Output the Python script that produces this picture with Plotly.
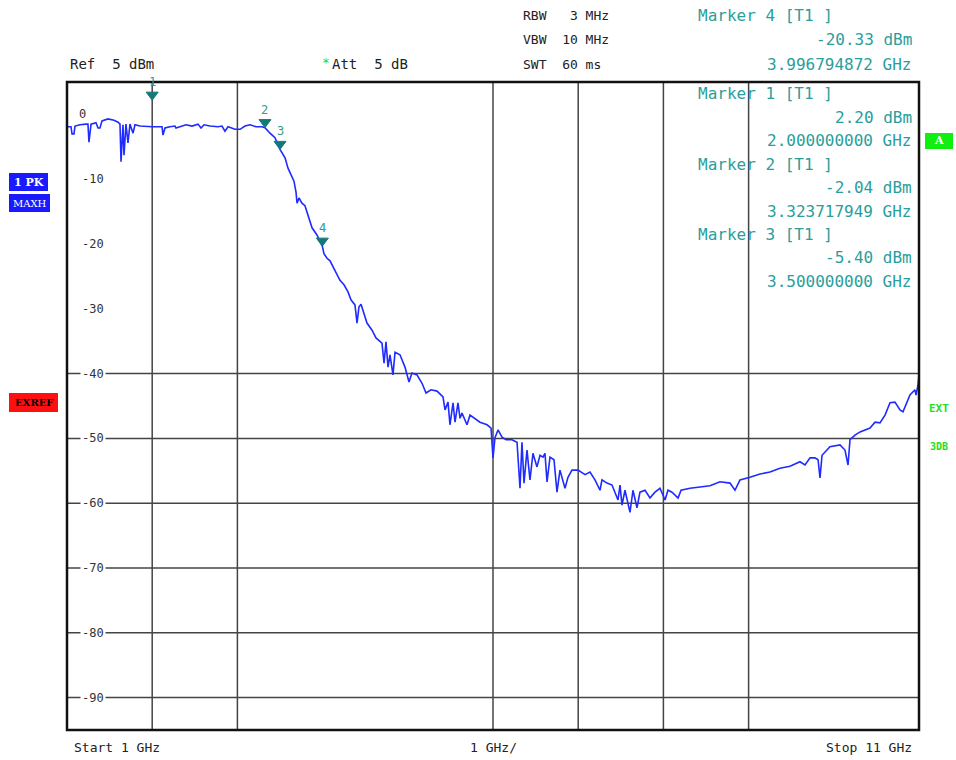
import plotly.graph_objects as go

# Spectrum trace (max hold), frequency in GHz and level in dBm
freq_ghz = [
    1.000, 1.047, 1.059, 1.082, 1.094, 1.153, 1.223, 1.246, 1.258, 1.282,
    1.340, 1.364, 1.387, 1.411, 1.481, 1.552, 1.599, 1.622, 1.634, 1.657,
    1.669, 1.692, 1.716, 1.739, 1.775, 1.798, 1.857, 1.927, 2.000, 2.068,
    2.115, 2.127, 2.150, 2.209, 2.268, 2.279, 2.326, 2.397, 2.467, 2.538,
    2.573, 2.608, 2.678, 2.772, 2.819, 2.854, 2.890, 2.972, 3.031, 3.089,
    3.148, 3.218, 3.289, 3.3237, 3.383, 3.441, 3.500, 3.559, 3.594, 3.629,
    3.664, 3.688, 3.700, 3.723, 3.758, 3.793, 3.829, 3.876, 3.934, 3.9968,
    4.016, 4.052, 4.087, 4.122, 4.157, 4.204, 4.251, 4.298, 4.333, 4.380,
    4.404, 4.427, 4.451, 4.486, 4.521, 4.580, 4.627, 4.697, 4.721, 4.744,
    4.768, 4.791, 4.826, 4.850, 4.908, 4.967, 5.014, 5.049, 5.108, 5.167,
    5.214, 5.272, 5.343, 5.413, 5.437, 5.472, 5.495, 5.531, 5.554, 5.589,
    5.613, 5.636, 5.695, 5.730, 5.789, 5.847, 5.930, 5.977, 6.000, 6.023,
    6.059, 6.106, 6.153, 6.223, 6.282, 6.317, 6.340, 6.364, 6.399, 6.434,
    6.469, 6.516, 6.552, 6.587, 6.610, 6.634, 6.669, 6.716, 6.751, 6.786,
    6.845, 6.880, 6.927, 6.998, 7.080, 7.138, 7.197, 7.256, 7.279, 7.338,
    7.397, 7.467, 7.491, 7.514, 7.549, 7.608, 7.643, 7.690, 7.725, 7.784,
    7.843, 7.901, 7.960, 8.019, 8.054, 8.101, 8.172, 8.207, 8.312, 8.430,
    8.547, 8.664, 8.782, 8.840, 8.899, 9.016, 9.134, 9.251, 9.368, 9.486,
    9.603, 9.662, 9.721, 9.779, 9.815, 9.838, 9.862, 9.955, 10.073, 10.131,
    10.167, 10.190, 10.249, 10.308, 10.425, 10.484, 10.542, 10.601, 10.660, 10.718,
    10.777, 10.812, 10.859, 10.894, 10.930, 10.953, 10.965, 10.988, 11.000,
]
level_dbm = [
    -1.9, -1.9, -3.0, -3.0, -1.8, -1.6, -1.5, -1.5, -4.3, -1.5,
    -1.3, -2.1, -2.1, -1.0, -0.7, -0.9, -1.2, -1.5, -7.3, -1.6,
    -6.3, -1.5, -4.4, -1.5, -2.9, -1.6, -1.8, -1.9, -1.9, -1.9,
    -1.9, -3.2, -2.1, -1.9, -1.8, -2.1, -1.9, -1.6, -1.8, -1.5,
    -2.1, -1.6, -1.8, -1.9, -1.8, -2.6, -1.9, -2.3, -2.3, -1.8,
    -1.6, -1.9, -1.9, -2.04, -2.9, -3.6, -5.40, -6.7, -8.3, -9.4,
    -10.3, -12.0, -13.7, -12.9, -13.7, -14.1, -15.5, -17.5, -18.6, -20.33,
    -21.5, -22.2, -22.6, -23.5, -24.5, -25.6, -26.3, -27.4, -28.6, -29.4,
    -32.2, -29.7, -29.3, -30.6, -32.2, -33.3, -34.5, -35.3, -38.4, -35.1,
    -39.0, -37.1, -40.2, -36.7, -37.1, -39.0, -41.3, -39.9, -40.2, -41.5,
    -43.0, -42.5, -42.7, -43.6, -45.6, -44.4, -47.9, -44.5, -47.5, -44.5,
    -46.9, -46.1, -47.9, -46.4, -46.9, -47.5, -47.9, -48.4, -53.0, -49.9,
    -48.7, -49.8, -50.2, -50.2, -50.6, -57.7, -50.6, -56.9, -51.8, -56.4,
    -52.3, -54.4, -52.6, -52.9, -52.3, -56.7, -52.9, -53.3, -58.3, -54.9,
    -57.7, -56.0, -54.9, -54.9, -55.6, -55.2, -56.4, -58.0, -56.4, -56.9,
    -57.2, -59.5, -57.2, -60.3, -58.0, -61.4, -58.0, -60.7, -58.3, -58.0,
    -59.2, -58.3, -57.7, -59.5, -58.0, -58.3, -59.2, -58.0, -57.7, -57.5,
    -57.3, -56.7, -56.9, -58.0, -56.4, -56.0, -55.5, -55.2, -54.6, -54.3,
    -53.6, -54.1, -53.0, -53.0, -53.3, -56.1, -52.6, -51.3, -51.0, -51.8,
    -54.1, -50.2, -49.5, -49.0, -48.4, -47.5, -47.6, -46.4, -44.5, -44.4,
    -45.6, -45.9, -44.5, -43.3, -42.8, -42.5, -43.3, -41.8, -40.2,
]

# Markers (trace 1)
marker_ids = [1, 2, 3, 4]
marker_freq_ghz = [2.000000000, 3.323717949, 3.500000000, 3.996794872]
marker_level_dbm = [2.20, -2.04, -5.40, -20.33]

# Axis setup: ref level 5 dBm, 10 dB/div, start 1 GHz, 1 GHz/div
y_min, y_max = -95, 5
x_min, x_max = 1, 11
y_label_vals = [0, -10, -20, -30, -40, -50, -60, -70, -80, -90]
h_grid_vals = [-40, -50, -60, -70, -80, -90]
v_grid_vals = [2, 3, 6, 7, 8, 9]

header_left = ["Ref  5 dBm", "Att  5 dB"]
header_mid = ["RBW   3 MHz", "VBW  10 MHz", "SWT  60 ms"]
footer = ["Start 1 GHz", "1 GHz/", "Stop 11 GHz"]

W, H = 956, 760
L, R, T, B = 67, 919, 82, 730
MONO = "DejaVu Sans Mono"
TEAL = "#2a9e9c"
TEAL_DARK = "#13797a"


def px(x):
    return (x - L) / (R - L)


def py(y):
    return (B - y) / (B - T)


fig = go.Figure()

fig.add_trace(go.Scatter(
    x=freq_ghz, y=level_dbm, mode="lines",
    line=dict(color="#1f2bff", width=1.6),
    hoverinfo="skip", showlegend=False,
))

shapes = []
annotations = []

# grid lines
for f in v_grid_vals:
    shapes.append(dict(type="line", xref="x", yref="paper", x0=f, x1=f, y0=0, y1=1,
                       line=dict(color="#444444", width=1.5), layer="below"))
for v in h_grid_vals:
    shapes.append(dict(type="line", xref="paper", yref="y", x0=0, x1=1, y0=v, y1=v,
                       line=dict(color="#444444", width=1.5), layer="below"))

# frame
shapes.append(dict(type="rect", xref="paper", yref="paper", x0=0, x1=1, y0=0, y1=1,
                   line=dict(color="#111111", width=2.5)))

# level labels inside the frame
for v in y_label_vals:
    annotations.append(dict(
        x=px(106) if v != 0 else px(88), y=v, xref="paper", yref="y",
        text=str(v), showarrow=False, xanchor="right", yanchor="middle",
        font=dict(family=MONO, size=12, color="#333333"),
        bgcolor="white", borderpad=1,
    ))

# marker symbols and numbers
for mid, mf, ml in zip(marker_ids, marker_freq_ghz, marker_level_dbm):
    shapes.append(dict(
        type="path", xref="x", yref="y", xsizemode="pixel", ysizemode="pixel",
        xanchor=mf, yanchor=ml, path="M -6 8 L 6 8 L 0 0 Z",
        fillcolor=TEAL_DARK, line=dict(color=TEAL_DARK, width=1),
    ))
    annotations.append(dict(
        x=mf, y=ml, xref="x", yref="y", text=str(mid), showarrow=False,
        xanchor="center", yanchor="bottom", yshift=9,
        font=dict(family=MONO, size=12, color=TEAL),
    ))


def text_at(x, y, s, color="#222222", size=13, anchor="left", **kw):
    annotations.append(dict(
        x=px(x), y=py(y), xref="paper", yref="paper", text=s, showarrow=False,
        xanchor=anchor, yanchor="middle", font=dict(family=MONO, size=size, color=color),
        **kw,
    ))


# header
text_at(68, 64, header_left[0], size=14)
text_at(320, 63, "*", color="#22dd22", size=13)
text_at(330, 64, header_left[1], size=14)
for i, s in enumerate(header_mid):
    text_at(521, 15 + i * 24.5, s, size=13)

# marker readouts
readout_rows = []
order = [3, 0, 1, 2]
for k in order:
    readout_rows.append((f"Marker {marker_ids[k]} [T1 ]", "left"))
    readout_rows.append((f"{marker_level_dbm[k]:.2f} dBm", "right"))
    readout_rows.append((f"{marker_freq_ghz[k]:.9f} GHz", "right"))
row_y = [15, 40, 64, 94, 117, 141, 164, 187, 211, 234, 257, 281]
for (s, a), y in zip(readout_rows, row_y):
    if a == "left":
        text_at(696, y, s, color=TEAL, size=16)
    else:
        text_at(914, y, s, color=TEAL, size=16, anchor="right")

# side status boxes
def box(x0, y0, x1, y1, fill, label, tcolor, size=11):
    shapes.append(dict(type="rect", xref="paper", yref="paper",
                       x0=px(x0), x1=px(x1), y0=py(y1), y1=py(y0),
                       fillcolor=fill, line=dict(width=0)))
    annotations.append(dict(
        x=px((x0 + x1) / 2), y=py((y0 + y1) / 2), xref="paper", yref="paper",
        text=label, showarrow=False, xanchor="center", yanchor="middle",
        font=dict(family="DejaVu Serif", size=size, color=tcolor),
    ))


box(9, 173, 48, 191, "#1a1aff", "<b>1 PK</b>", "white")
box(9, 194, 50, 212, "#1a1aff", "MAXH", "white", size=10)
box(9, 393, 58, 412, "#ff1010", "<b>EXREF</b>", "black", size=10)
box(925, 133, 953, 149, "#11ee11", "<b>A</b>", "white")
text_at(939, 408, "<b>EXT</b>", color="#22e022", size=11, anchor="center")
text_at(939, 447, "<b>3DB</b>", color="#22e022", size=10, anchor="center")

# footer
text_at(72, 748, footer[0], size=13)
text_at(493, 748, footer[1], size=13, anchor="center")
text_at(914, 748, footer[2], size=13, anchor="right")

fig.update_layout(
    width=W, height=H,
    margin=dict(l=L, r=W - R, t=T, b=H - B),
    paper_bgcolor="white", plot_bgcolor="white",
    xaxis=dict(range=[x_min, x_max], showgrid=False, zeroline=False,
               showticklabels=False, ticks=""),
    yaxis=dict(range=[y_min, y_max], showgrid=False, zeroline=False,
               showticklabels=False, ticks=""),
    shapes=shapes, annotations=annotations, showlegend=False,
)

fig.write_html("out.html")
